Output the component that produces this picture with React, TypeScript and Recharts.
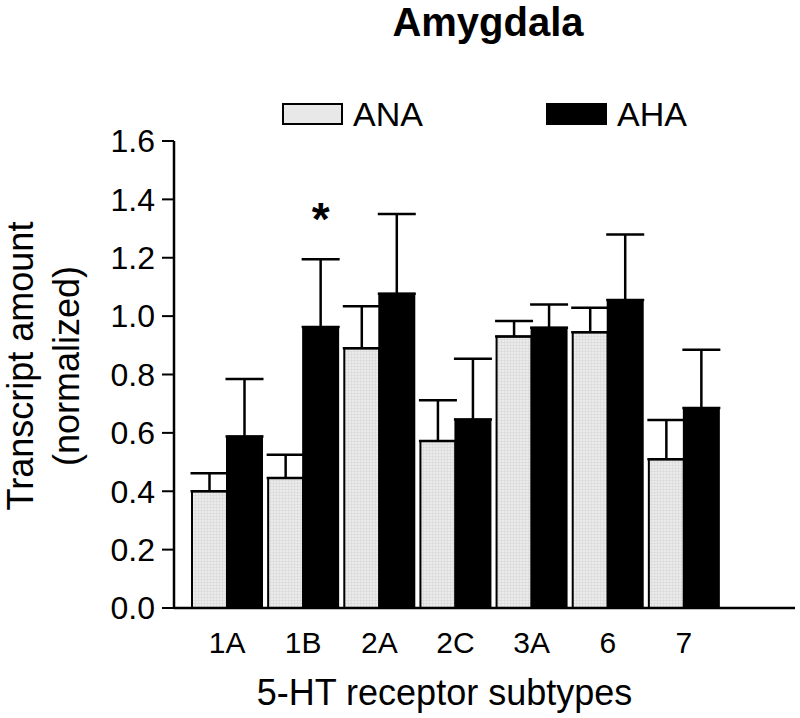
import React from "react";
import {
  BarChart,
  Bar,
  XAxis,
  YAxis,
  ErrorBar,
  Legend,
  ReferenceDot,
  Customized,
} from "recharts";

const FONT = "'Liberation Sans', Arial, Helvetica, sans-serif";

// 5-HT receptor subtypes
const subtypes = ["1A", "1B", "2A", "2C", "3A", "6", "7"];

// means (normalized transcript amount)
const anaMean = [0.4, 0.445, 0.89, 0.572, 0.93, 0.945, 0.51];
const ahaMean = [0.588, 0.963, 1.077, 0.646, 0.96, 1.055, 0.685];

// upper error (SEM)
const anaErr = [0.062, 0.08, 0.144, 0.14, 0.053, 0.084, 0.134];
const ahaErr = [0.197, 0.232, 0.273, 0.208, 0.08, 0.225, 0.2];

const yTicks = [0, 0.2, 0.4, 0.6, 0.8, 1.0, 1.2, 1.4, 1.6];

// significance marker
const sigSubtype = "1B";
const sigLevel = 1.36;

const rows = subtypes.map((s, i) => ({
  subtype: s,
  ANA: anaMean[i],
  AHA: ahaMean[i],
  anaErr: [0, anaErr[i]],
  ahaErr: [0, ahaErr[i]],
}));

// light dotted-grid fill used for ANA bars
function Defs() {
  return (
    <defs>
      <pattern id="anaGrid" width="3" height="3" patternUnits="userSpaceOnUse">
        <rect width="3" height="3" fill="#ebebeb" />
        <path d="M0 0.5H3M0.5 0V3" stroke="#dadada" strokeWidth="0.7" />
      </pattern>
    </defs>
  );
}

function Title() {
  return (
    <text
      x={488}
      y={36}
      textAnchor="middle"
      fontFamily={FONT}
      fontWeight="bold"
      fontSize={40}
      fill="#000"
    >
      Amygdala
    </text>
  );
}

function YTitle() {
  return (
    <g fontFamily={FONT} fontSize={36} fill="#000" textAnchor="middle">
      <text transform="translate(33,366) rotate(-90)">Transcript amount</text>
      <text transform="translate(79,366) rotate(-90)">(normalized)</text>
    </g>
  );
}

function LegendBox() {
  const item = (left: number, fill: string, name: string) => (
    <div key={name} style={{ position: "absolute", left, top: 0 }}>
      <div
        style={{
          position: "absolute",
          left: 0,
          top: 7,
          width: 61,
          height: 22,
          boxSizing: "border-box",
          border: "2px solid #000",
          background: fill,
        }}
      />
      <span
        style={{
          position: "absolute",
          left: 71,
          top: 1,
          fontSize: 34,
          lineHeight: "34px",
          whiteSpace: "nowrap",
          color: "#000",
        }}
      >
        {name}
      </span>
    </div>
  );
  return (
    <div style={{ position: "relative", height: 36, fontFamily: FONT }}>
      {item(282, "#e8e8e8", "ANA")}
      {item(546, "#000", "AHA")}
    </div>
  );
}

function Star(props: any) {
  const { cx, cy } = props;
  return (
    <text
      x={cx + 17.5}
      y={cy + 24}
      textAnchor="middle"
      fontFamily={FONT}
      fontWeight="bold"
      fontSize={46}
      fill="#000"
    >
      *
    </text>
  );
}

export default function App() {
  return (
    <div style={{ position: "absolute", left: 0, top: 0, background: "#fff" }}>
      <BarChart
        width={800}
        height={718}
        data={rows}
        margin={{ top: 141, right: 5, bottom: 0, left: 114 }}
        barGap={0}
        barSize={35}
      >
        <Customized component={<Defs />} />
        <XAxis
          dataKey="subtype"
          height={110}
          padding={{ left: 15, right: 73 }}
          tickLine={false}
          tickSize={22}
          axisLine={{ stroke: "#000", strokeWidth: 2.5 }}
          tick={{ fontSize: 30, fill: "#000", fontFamily: FONT }}
          label={{
            value: "5-HT receptor subtypes",
            position: "insideBottom",
            offset: 13,
            dx: -40,
            fontSize: 36,
            fill: "#000",
            fontFamily: FONT,
          }}
        />
        <YAxis
          width={60}
          domain={[0, 1.6]}
          ticks={yTicks}
          interval={0}
          tickFormatter={(v: number) => v.toFixed(1)}
          tickSize={12}
          tickMargin={7}
          tickLine={{ stroke: "#000", strokeWidth: 2 }}
          axisLine={{ stroke: "#000", strokeWidth: 2.5 }}
          tick={{ fontSize: 32, fill: "#000", fontFamily: FONT }}
        />
        <Legend
          verticalAlign="middle"
          align="center"
          content={<LegendBox />}
          wrapperStyle={{ left: 0, top: 96, width: 800 }}
        />
        <Bar
          dataKey="ANA"
          fill="url(#anaGrid)"
          stroke="#000"
          strokeWidth={2}
          isAnimationActive={false}
        >
          <ErrorBar
            dataKey="anaErr"
            width={19}
            stroke="#000"
            strokeWidth={2.5}
            direction="y"
          />
        </Bar>
        <Bar
          dataKey="AHA"
          fill="#000"
          stroke="#000"
          strokeWidth={2}
          isAnimationActive={false}
        >
          <ErrorBar
            dataKey="ahaErr"
            width={19}
            stroke="#000"
            strokeWidth={2.5}
            direction="y"
          />
        </Bar>
        <ReferenceDot
          x={sigSubtype}
          y={sigLevel}
          r={0}
          shape={<Star />}
          ifOverflow="visible"
        />
        <Customized component={<Title />} />
        <Customized component={<YTitle />} />
      </BarChart>
    </div>
  );
}
